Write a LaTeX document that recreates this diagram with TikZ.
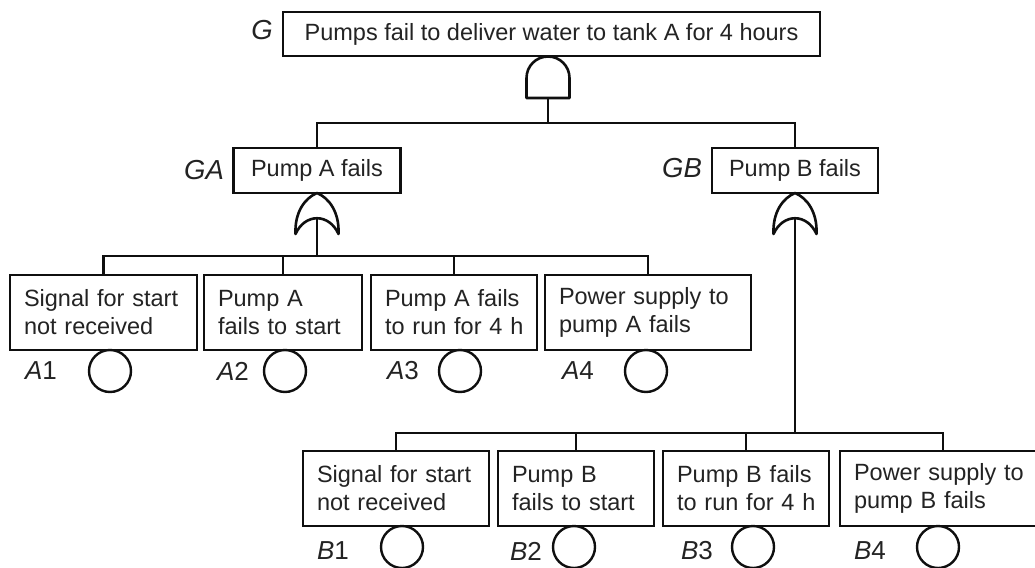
\documentclass[tikz,border=0pt]{standalone}
\usepackage{fontspec}
\setmainfont{Liberation Sans}
\usetikzlibrary{positioning, calc}
\definecolor{inkcolor}{RGB}{15,15,15}
\definecolor{txtcolor}{RGB}{35,35,35}
\tikzset{
  topbox/.style = {draw=inkcolor, line width=2.9pt, fill=white, text=txtcolor,
                   font=\fontsize{23.5}{28}\selectfont, minimum height=44pt, inner sep=0pt},
  evbox/.style  = {draw=inkcolor, line width=2.9pt, fill=white, text=txtcolor,
                   font=\fontsize{23.5}{28}\selectfont, minimum height=75pt,
                   inner xsep=14pt, inner ysep=0pt, align=left, text width=#1},
  basic/.style  = {circle, draw=inkcolor, line width=2.4pt, minimum size=42pt, inner sep=0pt},
  wire/.style   = {draw=inkcolor, line width=2.9pt},
}

\begin{document}
\begin{tikzpicture}[
    x=1pt, y=-1pt,
    gate/.style={draw=inkcolor, line width=2.6pt, line join=round, fill=white},
    tag/.style={font=\fontsize{27.5}{30}\selectfont\itshape, text=txtcolor, inner sep=0pt},
    evtag/.style={font=\fontsize{26}{30}\selectfont, text=txtcolor, inner sep=0pt}
]
\useasboundingbox (0,0) rectangle (1035,567);
\clip (0,0) rectangle (1035,567);

% top event
\node[topbox, minimum width=537pt] (g) at (551.5,34) {Pumps fail to deliver water to tank A for 4 hours};
\node[tag] (gtag) at (262,30) {G};

% and gate
\draw[gate] (526.5,98) -- (526.5,78) .. controls (526.5,66.1) and (536.1,56.5) .. (548,56.5)
  .. controls (559.9,56.5) and (569.5,66.1) .. (569.5,78) -- (569.5,98) -- cycle;
\coordinate (gand) at (548,98);
\coordinate (busg) at (548,123);

% pump events
\node[topbox, minimum width=167pt, minimum height=45pt] (ga) at (317,170.5) {Pump A fails};
\node[topbox, minimum width=166pt, minimum height=45pt] (gb) at (795,170.5) {Pump B fails};
\node[tag] (gatag) at (204,170) {GA};
\node[tag] (gbtag) at (682,168) {GB};

\draw[wire] (gand) -- (busg);
\draw[wire] (ga.north) |- (busg) -| (gb.north);

% or gates
\draw[gate] (295.5,234) .. controls (294.5,212) and (305,198) .. (317,193)
  .. controls (329,198) and (339.5,212) .. (338.5,234)
  .. controls (329,213) and (305,213) .. cycle;
\coordinate (gaor) at (317,218);
\draw[gate] (773.5,234) .. controls (772.5,212) and (783,198) .. (795,193)
  .. controls (807,198) and (817.5,212) .. (816.5,234)
  .. controls (807,213) and (783,213) .. cycle;
\coordinate (gbor) at (795,218);

% pump A basic events
\node[evbox=159pt] (a1) at (103.5,312.5) {Signal for start\\not received};
\node[evbox=130pt] (a2) at (283,312.5) {Pump A\\fails to start};
\node[evbox=138pt] (a3) at (454,312.5) {Pump A fails\\to~run~for~4~h};
\node[evbox=178pt] (a4) at (648,312.5) {Power supply to\\pump A fails};

\node[basic] (a1e) at (110,371) {};
\node[basic] (a2e) at (285,371) {};
\node[basic] (a3e) at (460,371) {};
\node[basic] (a4e) at (646,371) {};

\node[evtag] (a1tag) at (41,371) {\textit{A}1};
\node[evtag] (a2tag) at (233,371) {\textit{A}2};
\node[evtag] (a3tag) at (403,371) {\textit{A}3};
\node[evtag] (a4tag) at (578,371) {\textit{A}4};

\coordinate (busa) at (317,256);
\draw[wire] (gaor) -- (busa);
\draw[wire] (a1.north) |- (busa) -| (a4.north);
\draw[wire] (a2.north) -- (a2.north |- busa);
\draw[wire] (a3.north) -- (a3.north |- busa);

% pump B basic events
\node[evbox=158pt] (b1) at (396,488.5) {Signal for start\\not received};
\node[evbox=128pt] (b2) at (576,488.5) {Pump B\\fails to start};
\node[evbox=138pt] (b3) at (746,488.5) {Pump B fails\\to~run~for~4~h};
\node[evbox=178pt] (b4) at (943,488.5) {Power supply to\\pump B fails};

\node[basic] (b1e) at (402,547) {};
\node[basic] (b2e) at (574,547) {};
\node[basic] (b3e) at (753,547) {};
\node[basic] (b4e) at (938,547) {};

\node[evtag] (b1tag) at (333,551) {\textit{B}1};
\node[evtag] (b2tag) at (526,551) {\textit{B}2};
\node[evtag] (b3tag) at (697,551) {\textit{B}3};
\node[evtag] (b4tag) at (870,551) {\textit{B}4};

\coordinate (busb) at (795,433);
\draw[wire] (gbor) -- (busb);
\draw[wire] (b1.north) |- (busb) -| (b4.north);
\draw[wire] (b2.north) -- (b2.north |- busb);
\draw[wire] (b3.north) -- (b3.north |- busb);

\end{tikzpicture}
\end{document}
